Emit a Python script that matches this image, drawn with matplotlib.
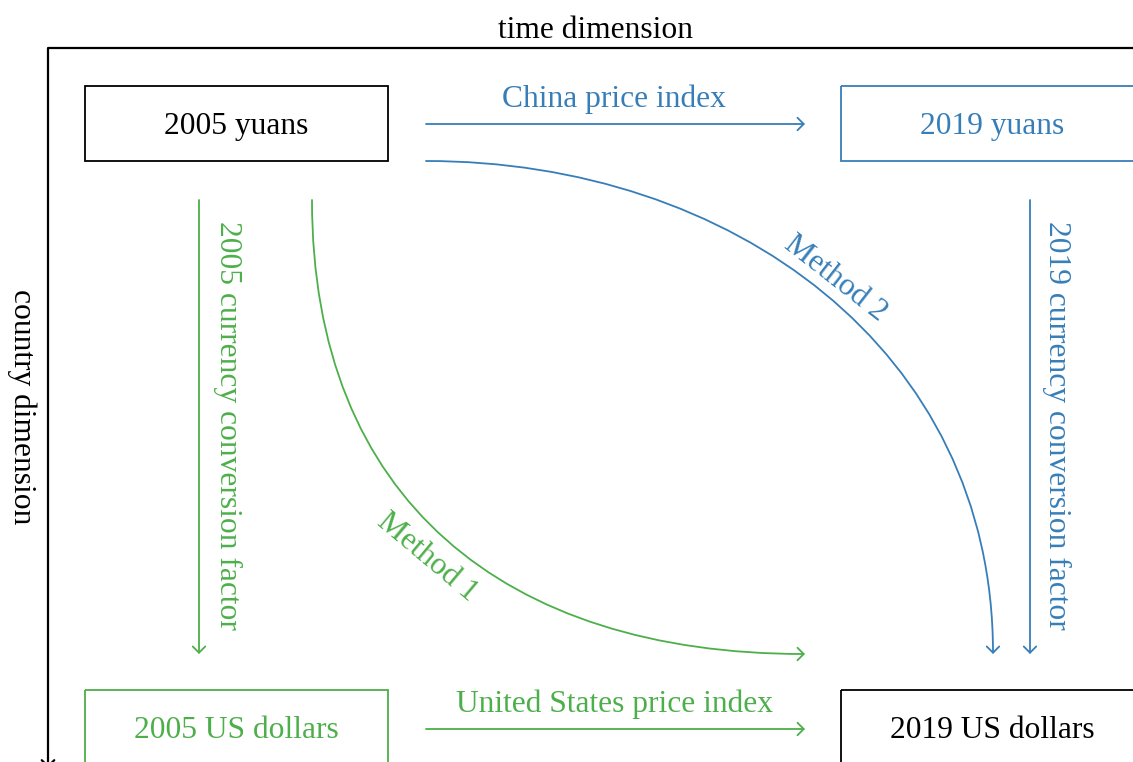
import matplotlib.pyplot as plt
from matplotlib.patches import Rectangle, FancyArrowPatch
from matplotlib.path import Path

# Diagram content
node_labels = ["2005 yuans", "2019 yuans", "2005 US dollars", "2019 US dollars"]
edge_labels = ["China price index", "United States price index",
               "2005 currency conversion factor", "2019 currency conversion factor"]
method_labels = ["Method 1", "Method 2"]
axis_labels = ["time dimension", "country dimension"]

BLUE = "#377eb8"
GREEN = "#4daf4a"
FS = 22.7
DY = 3  # text sits a bit lower than the bbox centre

plt.rcParams["font.family"] = ["Liberation Serif", "DejaVu Serif"]

fig = plt.figure(figsize=(11.33, 7.62), dpi=100)
ax = fig.add_axes([0, 0, 1, 1])
ax.set_xlim(0, 1133)
ax.set_ylim(762, 0)
ax.axis("off")

# layout (pixel coords of the picture)
box_w, box_h = 303, 75
box_xy = [(85, 86), (841, 86), (85, 690), (841, 690)]
box_col = ["black", BLUE, GREEN, "black"]
for lab, (x, y), c in zip(node_labels, box_xy, box_col):
    ax.add_patch(Rectangle((x, y), box_w, box_h, fill=False, ec=c, lw=1.3))
    ax.text(x + box_w / 2, y + box_h / 2 + DY, lab, color=c, fontsize=FS,
            ha="center", va="center")


def arrow(p0, p1, c, path=None, lw=1.3):
    style = "->,head_length=0.45,head_width=0.45"
    if path is None:
        a = FancyArrowPatch(p0, p1, arrowstyle=style, mutation_scale=10,
                            color=c, lw=lw, shrinkA=0, shrinkB=0)
    else:
        a = FancyArrowPatch(path=path, arrowstyle=style, mutation_scale=10,
                            color=c, lw=lw)
    ax.add_patch(a)


# frame axes
ax.plot([48, 1140], [48, 48], color="black", lw=1.6, solid_capstyle="butt")
arrow((48, 48), (48, 768), "black", lw=1.6)
ax.text(596, 27 + DY, axis_labels[0], fontsize=FS, ha="center", va="center")
ax.text(22, 407, axis_labels[1], fontsize=FS, ha="center", va="center",
        rotation=-90)

# horizontal arrows
arrow((426, 124), (805, 124), BLUE)
ax.text(614, 96 + DY, edge_labels[0], color=BLUE, fontsize=FS, ha="center", va="center")
arrow((426, 729), (805, 729), GREEN)
ax.text(614, 701 + DY, edge_labels[1], color=GREEN, fontsize=FS, ha="center", va="center")

# vertical arrows
arrow((199, 200), (199, 654), GREEN)
ax.text(228, 425, edge_labels[2], color=GREEN, fontsize=FS, ha="center",
        va="center", rotation=-90)
arrow((1030, 200), (1030, 654), BLUE)
ax.text(1057, 425, edge_labels[3], color=BLUE, fontsize=FS, ha="center",
        va="center", rotation=-90)

# curved method arrows
k1 = 300
p1 = Path([(312, 200), (312, 200 + k1), (805 - k1, 654), (805, 654)],
          [Path.MOVETO, Path.CURVE4, Path.CURVE4, Path.CURVE4])
arrow(None, None, GREEN, path=p1)
ax.text(427, 557, method_labels[0], color=GREEN, fontsize=FS, ha="center",
        va="center", rotation=-40, rotation_mode="anchor")

k2 = 305
p2 = Path([(426, 161), (426 + k2, 161), (993, 654 - k2), (993, 654)],
          [Path.MOVETO, Path.CURVE4, Path.CURVE4, Path.CURVE4])
arrow(None, None, BLUE, path=p2)
ax.text(835, 278, method_labels[1], color=BLUE, fontsize=FS, ha="center",
        va="center", rotation=-38, rotation_mode="anchor")

fig.savefig("out.png", dpi=100)
